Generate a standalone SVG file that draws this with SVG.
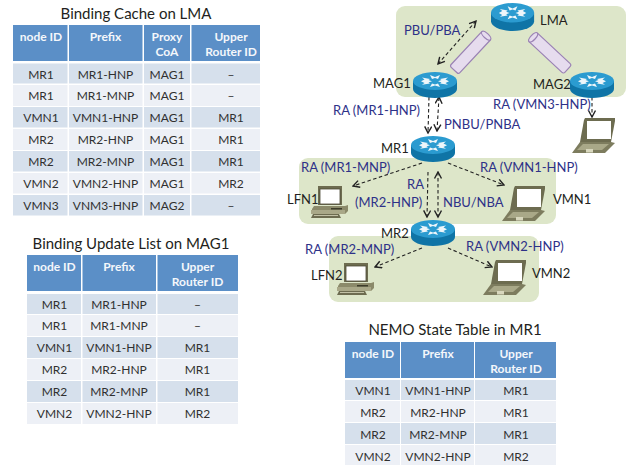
<svg xmlns="http://www.w3.org/2000/svg" width="628" height="465" viewBox="0 0 628 465">
<style>
text{font-family:"Lato","Open Sans","Liberation Sans",sans-serif}
.title{font-size:15px;fill:#231f20;text-anchor:middle}
.h{fill:#5b8fc7}.a{fill:#d6e0ec}.b{fill:#edf0f6}
.ht{font-size:12px;font-weight:700;fill:#f4f7fb;text-anchor:middle}
.c{font-size:12px;fill:#303030;text-anchor:middle}
.lab{font-size:13px;fill:#2e3188}
.nm{font-size:13px;fill:#231f20}
.panel{fill:#dde6c9}
.tun{fill:#e6dcee;stroke:#9a82b4;stroke-width:1.2}
.ar{fill:none;stroke:#222;stroke-width:1.1;stroke-dasharray:3.5 2.5;marker-end:url(#ah)}
.ard{fill:none;stroke:#222;stroke-width:1.1;stroke-dasharray:3.5 2.5;marker-end:url(#ah);marker-start:url(#ahs)}
</style>
<defs>
<marker id="ah" markerWidth="9" markerHeight="9" refX="7.5" refY="4" orient="auto" markerUnits="userSpaceOnUse"><path d="M1 0.5L7.5 4L1 7.5" fill="none" stroke="#222" stroke-width="1.4"/></marker>
<marker id="ahs" markerWidth="9" markerHeight="9" refX="1" refY="4" orient="auto" markerUnits="userSpaceOnUse"><path d="M7.5 0.5L1 4L7.5 7.5" fill="none" stroke="#222" stroke-width="1.4"/></marker>
<symbol id="router" width="44" height="26" viewBox="0 0 44 26" overflow="visible">
<path d="M0 9V17C0 22 10 26 22 26S44 22 44 17V9Z" fill="#0f74a6"/>
<ellipse cx="22" cy="9" rx="22" ry="9" fill="#2b9bd0"/>
<path d="M9 5.5L17 7L15.5 8L19 9.2L15.5 10.4L17 11.5L9 12.8L11.5 11L8 9.2L11.5 7.5ZM35 5.5L27 7L28.5 8L25 9.2L28.5 10.4L27 11.5L35 12.8L32.5 11L36 9.2L32.5 7.5Z" fill="#eef6fa"/>
<path d="M17 3L22 5L27 3L25 7L22 6L19 7ZM17 15L19 11.5L22 12.5L25 11.5L27 15L22 13.5Z" fill="#eef6fa"/>
</symbol>
<symbol id="laptop" width="43" height="35" viewBox="0 0 43 35" overflow="visible">
<path d="M13 0H43V3L39 24H8L12 2Z" fill="#6d6c50"/>
<rect x="15" y="3" width="24" height="18" fill="#fff"/>
<path d="M8 24H39L43 25L33 35H0Z" fill="#7d7c5e"/>
<path d="M11 26H37L30 32H5Z" fill="#a9a888"/>
<rect x="14" y="31" width="7" height="3.5" fill="#d8d7bd"/>
</symbol>
<symbol id="pc" width="37" height="32" viewBox="0 0 37 32" overflow="visible">
<path d="M7 0H31V19H7Z" fill="#6d6c50"/>
<rect x="9" y="3" width="20" height="15" fill="#fff" stroke="#4b4a36" stroke-width="0.8"/>
<path d="M3 20H34L37 19V25L34 28H1V23Z" fill="#8b8a6a"/>
<path d="M0 24H34V28H0Z" fill="#a9a888"/>
<path d="M2 28H28L30 32H0Z" fill="#6d6c50"/>
<rect x="20" y="22" width="11" height="1.5" fill="#3d3c2a"/>
<path d="M3 29.5H27" stroke="#d8d7bd" stroke-width="0.8"/>
</symbol>
</defs>

<g id="panels">
<rect class="panel" x="396" y="6" width="230" height="91" rx="9"/>
<rect class="panel" x="299" y="158" width="257" height="66" rx="9"/>
<rect class="panel" x="329" y="236" width="210" height="66" rx="9"/>
</g>

<g id="table-cache">
<text class="title" x="136" y="19">Binding Cache on LMA</text>
<rect class="h" x="13" y="25" width="54.500" height="36"/><rect class="h" x="69" y="25" width="73.500" height="36"/><rect class="h" x="144" y="25" width="46" height="36"/><rect class="h" x="191.500" y="25" width="68.500" height="36"/>
<text class="ht" x="41" y="41">node ID</text><text class="ht" x="105.500" y="41">Prefix</text><text class="ht" x="167" y="41">Proxy</text><text class="ht" x="167" y="56">CoA</text><text class="ht" x="231" y="41">Upper</text><text class="ht" x="231" y="56">Router ID</text>
<g class="a"><rect x="13" y="63.500" width="54.500" height="20"/><rect x="69" y="63.500" width="73.500" height="20"/><rect x="144" y="63.500" width="46" height="20"/><rect x="191.500" y="63.500" width="68.500" height="20"/></g>
<g class="b"><rect x="13" y="85" width="54.500" height="21"/><rect x="69" y="85" width="73.500" height="21"/><rect x="144" y="85" width="46" height="21"/><rect x="191.500" y="85" width="68.500" height="21"/></g>
<g class="a"><rect x="13" y="107" width="54.500" height="20.500"/><rect x="69" y="107" width="73.500" height="20.500"/><rect x="144" y="107" width="46" height="20.500"/><rect x="191.500" y="107" width="68.500" height="20.500"/></g>
<g class="b"><rect x="13" y="129" width="54.500" height="21"/><rect x="69" y="129" width="73.500" height="21"/><rect x="144" y="129" width="46" height="21"/><rect x="191.500" y="129" width="68.500" height="21"/></g>
<g class="a"><rect x="13" y="151" width="54.500" height="20.500"/><rect x="69" y="151" width="73.500" height="20.500"/><rect x="144" y="151" width="46" height="20.500"/><rect x="191.500" y="151" width="68.500" height="20.500"/></g>
<g class="b"><rect x="13" y="173" width="54.500" height="20.500"/><rect x="69" y="173" width="73.500" height="20.500"/><rect x="144" y="173" width="46" height="20.500"/><rect x="191.500" y="173" width="68.500" height="20.500"/></g>
<g class="a"><rect x="13" y="195" width="54.500" height="20.500"/><rect x="69" y="195" width="73.500" height="20.500"/><rect x="144" y="195" width="46" height="20.500"/><rect x="191.500" y="195" width="68.500" height="20.500"/></g>
<text class="c" x="41" y="79">MR1</text><text class="c" x="105.500" y="79">MR1-HNP</text><text class="c" x="167" y="79">MAG1</text><text class="c" x="231" y="79">–</text>
<text class="c" x="41" y="100">MR1</text><text class="c" x="105.500" y="100">MR1-MNP</text><text class="c" x="167" y="100">MAG1</text><text class="c" x="231" y="100">–</text>
<text class="c" x="41" y="122">VMN1</text><text class="c" x="105.500" y="122">VMN1-HNP</text><text class="c" x="167" y="122">MAG1</text><text class="c" x="231" y="122">MR1</text>
<text class="c" x="41" y="144">MR2</text><text class="c" x="105.500" y="144">MR2-HNP</text><text class="c" x="167" y="144">MAG1</text><text class="c" x="231" y="144">MR1</text>
<text class="c" x="41" y="166">MR2</text><text class="c" x="105.500" y="166">MR2-MNP</text><text class="c" x="167" y="166">MAG1</text><text class="c" x="231" y="166">MR1</text>
<text class="c" x="41" y="188">VMN2</text><text class="c" x="105.500" y="188">VMN2-HNP</text><text class="c" x="167" y="188">MAG1</text><text class="c" x="231" y="188">MR2</text>
<text class="c" x="41" y="210">VMN3</text><text class="c" x="105.500" y="210">VNM3-HNP</text><text class="c" x="167" y="210">MAG2</text><text class="c" x="231" y="210">–</text>
</g>

<g id="table-bul">
<text class="title" x="131" y="249">Binding Update List on MAG1</text>
<rect class="h" x="27" y="255" width="54" height="36"/><rect class="h" x="82.500" y="255" width="73.500" height="36"/><rect class="h" x="157.500" y="255" width="80.500" height="36"/>
<text class="ht" x="54.500" y="271">node ID</text><text class="ht" x="119" y="271">Prefix</text><text class="ht" x="197.500" y="271">Upper</text><text class="ht" x="197.500" y="286">Router ID</text>
<g class="a"><rect x="27" y="294" width="54" height="20"/><rect x="82.500" y="294" width="73.500" height="20"/><rect x="157.500" y="294" width="80.500" height="20"/></g>
<g class="b"><rect x="27" y="315" width="54" height="21"/><rect x="82.500" y="315" width="73.500" height="21"/><rect x="157.500" y="315" width="80.500" height="21"/></g>
<g class="a"><rect x="27" y="337" width="54" height="21"/><rect x="82.500" y="337" width="73.500" height="21"/><rect x="157.500" y="337" width="80.500" height="21"/></g>
<g class="b"><rect x="27" y="359" width="54" height="21"/><rect x="82.500" y="359" width="73.500" height="21"/><rect x="157.500" y="359" width="80.500" height="21"/></g>
<g class="a"><rect x="27" y="381" width="54" height="21"/><rect x="82.500" y="381" width="73.500" height="21"/><rect x="157.500" y="381" width="80.500" height="21"/></g>
<g class="b"><rect x="27" y="403" width="54" height="21"/><rect x="82.500" y="403" width="73.500" height="21"/><rect x="157.500" y="403" width="80.500" height="21"/></g>
<text class="c" x="54.500" y="309">MR1</text><text class="c" x="119" y="309">MR1-HNP</text><text class="c" x="197.500" y="309">–</text>
<text class="c" x="54.500" y="330">MR1</text><text class="c" x="119" y="330">MR1-MNP</text><text class="c" x="197.500" y="330">–</text>
<text class="c" x="54.500" y="352">VMN1</text><text class="c" x="119" y="352">VMN1-HNP</text><text class="c" x="197.500" y="352">MR1</text>
<text class="c" x="54.500" y="374">MR2</text><text class="c" x="119" y="374">MR2-HNP</text><text class="c" x="197.500" y="374">MR1</text>
<text class="c" x="54.500" y="396">MR2</text><text class="c" x="119" y="396">MR2-MNP</text><text class="c" x="197.500" y="396">MR1</text>
<text class="c" x="54.500" y="418">VMN2</text><text class="c" x="119" y="418">VMN2-HNP</text><text class="c" x="197.500" y="418">MR2</text>
</g>

<g id="table-nemo">
<text class="title" x="455" y="335">NEMO State Table in MR1</text>
<rect class="h" x="345" y="342" width="55" height="36"/><rect class="h" x="401" y="342" width="73" height="36"/><rect class="h" x="475" y="342" width="81" height="36"/>
<text class="ht" x="373" y="358">node ID</text><text class="ht" x="438" y="358">Prefix</text><text class="ht" x="516" y="358">Upper</text><text class="ht" x="516" y="373">Router ID</text>
<g class="a"><rect x="345" y="380" width="55" height="20"/><rect x="401" y="380" width="73" height="20"/><rect x="475" y="380" width="81" height="20"/></g>
<g class="b"><rect x="345" y="401" width="55" height="21"/><rect x="401" y="401" width="73" height="21"/><rect x="475" y="401" width="81" height="21"/></g>
<g class="a"><rect x="345" y="423" width="55" height="21"/><rect x="401" y="423" width="73" height="21"/><rect x="475" y="423" width="81" height="21"/></g>
<g class="b"><rect x="345" y="445" width="55" height="20"/><rect x="401" y="445" width="73" height="20"/><rect x="475" y="445" width="81" height="20"/></g>
<text class="c" x="373" y="395">VMN1</text><text class="c" x="438" y="395">VMN1-HNP</text><text class="c" x="516" y="395">MR1</text>
<text class="c" x="373" y="417">MR2</text><text class="c" x="438" y="417">MR2-HNP</text><text class="c" x="516" y="417">MR1</text>
<text class="c" x="373" y="439">MR2</text><text class="c" x="438" y="439">MR2-MNP</text><text class="c" x="516" y="439">MR1</text>
<text class="c" x="373" y="461">VMN2</text><text class="c" x="438" y="461">VMN2-HNP</text><text class="c" x="516" y="461">MR2</text>
</g>

<g id="tunnels">
<g transform="translate(470.500 52.500) rotate(-47)"><rect class="tun" x="-24" y="-6" width="48" height="12" rx="2"/><ellipse class="tun" cx="23" cy="0" rx="2.500" ry="6"/></g>
<g transform="translate(550 53) rotate(43)"><rect class="tun" x="-24" y="-6" width="48" height="12" rx="2"/><ellipse class="tun" cx="-23" cy="0" rx="2.500" ry="6"/></g>
</g>

<g id="connectors">
<path class="ard" d="M476 21L438 64"/>
<path class="ar" d="M429 97L428 133"/>
<path class="ard" d="M437 131L439 97"/>
<path class="ar" d="M592 97L592 117"/>
<path class="ar" d="M422 163L353 186"/>
<path class="ar" d="M448 163L504 185"/>
<path class="ar" d="M428 172L427 217"/>
<path class="ard" d="M438 172L438 217"/>
<path class="ar" d="M422 248L375 267"/>
<path class="ar" d="M448 248L492 267"/>
</g>

<g id="node-lma"><use href="#router" transform="translate(491 3) scale(0.98 1.08)"/><text class="nm" x="540" y="25">LMA</text></g>
<g id="node-mag1"><use href="#router" x="413" y="72"/><text class="nm" x="373" y="88">MAG1</text></g>
<g id="node-mag2"><use href="#router" x="570" y="72"/><text class="nm" x="533" y="89">MAG2</text></g>
<g id="node-mr1"><use href="#router" x="411" y="136"/><text class="nm" x="381" y="153">MR1</text></g>
<g id="node-mr2"><use href="#router" x="411" y="220"/><text class="nm" x="381" y="238">MR2</text></g>
<g id="node-lfn1"><use href="#pc" x="311" y="186"/><text class="nm" x="287" y="204">LFN1</text></g>
<g id="node-lfn2"><use href="#pc" x="337" y="263"/><text class="nm" x="311" y="280">LFN2</text></g>
<g id="node-vmn1"><use href="#laptop" x="502" y="186"/><text class="nm" x="553" y="204">VMN1</text></g>
<g id="node-vmn2"><use href="#laptop" x="483" y="260"/><text class="nm" x="532" y="278">VMN2</text></g>
<g id="node-vmn3"><use href="#laptop" x="572" y="118"/></g>

<g id="labels">
<text class="lab" x="404" y="35">PBU/PBA</text>
<text class="lab" x="333" y="115">RA (MR1-HNP)</text>
<text class="lab" x="444" y="129">PNBU/PNBA</text>
<text class="lab" x="493" y="109">RA (VMN3-HNP)</text>
<text class="lab" x="301" y="172">RA (MR1-MNP)</text>
<text class="lab" x="480" y="172">RA (VMN1-HNP)</text>
<text class="lab" x="407" y="189">RA</text>
<text class="lab" x="355" y="207">(MR2-HNP)</text>
<text class="lab" x="443" y="207">NBU/NBA</text>
<text class="lab" x="305" y="254">RA (MR2-MNP)</text>
<text class="lab" x="466" y="251">RA (VMN2-HNP)</text>
</g>
</svg>
